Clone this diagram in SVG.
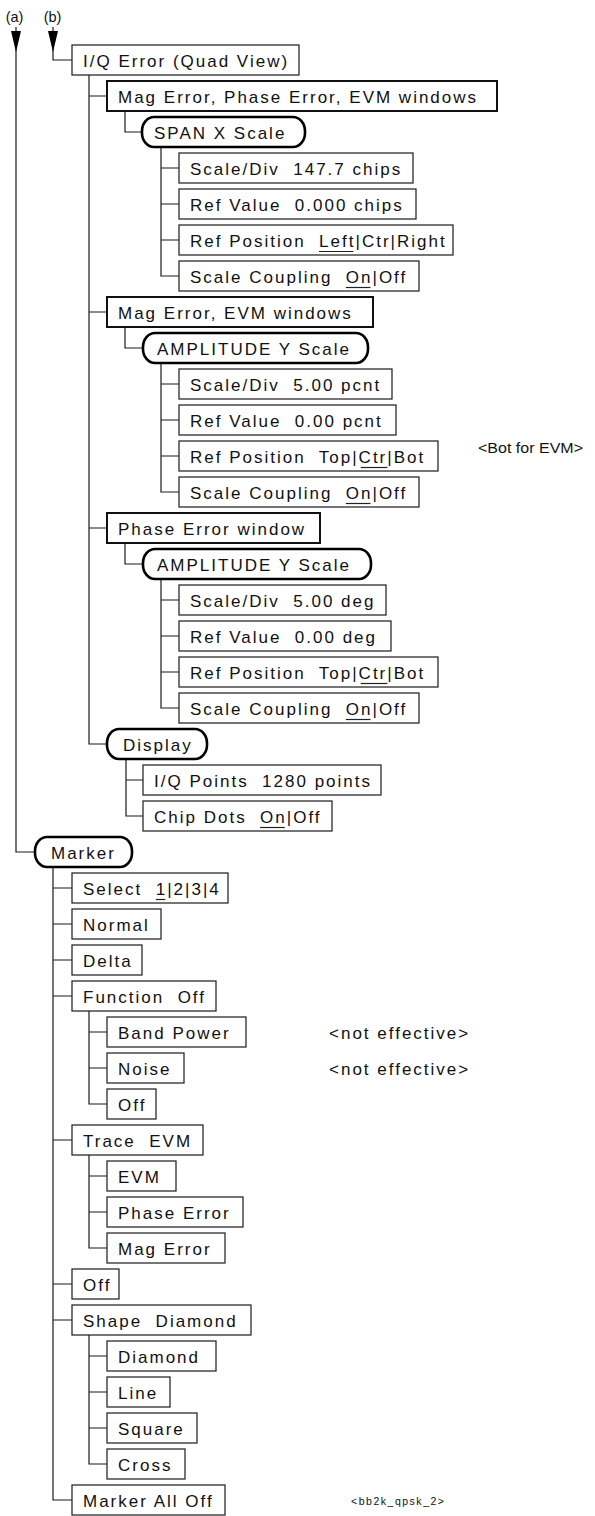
<svg xmlns="http://www.w3.org/2000/svg" width="595" height="1516" viewBox="0 0 595 1516" xml:space="preserve">
<style>
text{font-family:"Liberation Sans",Arial,Helvetica,sans-serif;fill:#111;white-space:pre}
.t{font-size:17px;letter-spacing:2px}
.box{fill:#fff;stroke:#1a1a1a;stroke-width:1.2}
.thick{fill:#fff;stroke:#111;stroke-width:2}
.pill{fill:#fff;stroke:#000;stroke-width:2.6}
.conn{fill:none;stroke:#1a1a1a;stroke-width:1.2}
.ul{stroke:#222;stroke-width:1.2}
.lbl{font-size:14.5px}
.note{font-size:15px}
.tag{font-size:10.5px}
</style>
<defs>
<path id="arrowhead" d="M-5,0 L5,0 L0,21 Z" fill="#000"/>
</defs>
<rect x="0" y="0" width="595" height="1516" fill="#fff"/>

<g id="connectors">
<path class="conn" d="M16,27 V852 H35"/>
<path class="conn" d="M53,27 V60 H72"/>
<path class="conn" d="M89,75 V744 H107 M89,96 H107 M89,312 H107 M89,528 H107"/>
<path class="conn" d="M125,111 V132 H142"/>
<path class="conn" d="M161,147 V276 H179 M161,168 H179 M161,204 H179 M161,240 H179"/>
<path class="conn" d="M125,327 V348 H143"/>
<path class="conn" d="M161,363 V492 H179 M161,384 H179 M161,420 H179 M161,456 H179"/>
<path class="conn" d="M125,543 V564 H143"/>
<path class="conn" d="M161,579 V708 H179 M161,600 H179 M161,636 H179 M161,672 H179"/>
<path class="conn" d="M126,759 V816 H143 M126,780 H143"/>
<path class="conn" d="M53,867 V1500 H72 M53,888 H72 M53,924 H72 M53,960 H72 M53,996 H72 M53,1140 H72 M53,1284 H72 M53,1320 H72"/>
<path class="conn" d="M89,1011 V1104 H107 M89,1032 H107 M89,1068 H107"/>
<path class="conn" d="M89,1155 V1248 H107 M89,1176 H107 M89,1212 H107"/>
<path class="conn" d="M89,1335 V1464 H107 M89,1356 H107 M89,1392 H107 M89,1428 H107"/>
<use href="#arrowhead" x="16" y="31"/>
<use href="#arrowhead" x="53" y="31"/>
</g>

<g id="label-a"><text class="lbl" x="14.5" y="22" text-anchor="middle">(a)</text></g>
<g id="label-b"><text class="lbl" x="52.5" y="22" text-anchor="middle">(b)</text></g>

<g id="n0"><rect class="box" x="72" y="45" width="227" height="30"/><text class="t" x="83" y="66.5">I/Q Error (Quad View)</text></g>
<g id="n1"><rect class="thick" x="107" y="81" width="390" height="30"/><text class="t" x="118" y="102.5">Mag Error, Phase Error, EVM windows</text></g>
<g id="n2"><rect class="pill" x="142" y="117" width="163" height="30" rx="12" ry="14"/><text class="t" x="154" y="138.5">SPAN X Scale</text></g>
<g id="n3"><rect class="box" x="179" y="153" width="234" height="30"/><text class="t" x="190" y="174.5">Scale/Div  147.7 chips</text></g>
<g id="n4"><rect class="box" x="179" y="189" width="237" height="30"/><text class="t" x="190" y="210.5">Ref Value  0.000 chips</text></g>
<g id="n5"><rect class="box" x="179" y="225" width="274" height="30"/><text class="t" x="190" y="246.5">Ref Position  Left|Ctr|Right</text><line class="ul" x1="319" y1="251.5" x2="353.5" y2="251.5"/></g>
<g id="n6"><rect class="box" x="179" y="261" width="240" height="30"/><text class="t" x="190" y="282.5">Scale Coupling  On|Off</text><line class="ul" x1="345.8" y1="287.5" x2="370.5" y2="287.5"/></g>

<g id="n7"><rect class="thick" x="107" y="297" width="266" height="30"/><text class="t" x="118" y="318.5">Mag Error, EVM windows</text></g>
<g id="n8"><rect class="pill" x="143" y="333" width="225" height="30" rx="12" ry="14"/><text class="t" x="157" y="354.5">AMPLITUDE Y Scale</text></g>
<g id="n9"><rect class="box" x="179" y="369" width="213" height="30"/><text class="t" x="190" y="390.5">Scale/Div  5.00 pcnt</text></g>
<g id="n10"><rect class="box" x="179" y="405" width="217" height="30"/><text class="t" x="190" y="426.5">Ref Value  0.00 pcnt</text></g>
<g id="n11"><rect class="box" x="179" y="441" width="259" height="30"/><text class="t" x="190" y="462.5">Ref Position  Top|Ctr|Bot</text><line class="ul" x1="360.8" y1="467.5" x2="387.5" y2="467.5"/><text class="note" x="478" y="453" textLength="105" lengthAdjust="spacingAndGlyphs">&lt;Bot for EVM&gt;</text></g>
<g id="n12"><rect class="box" x="179" y="477" width="240" height="30"/><text class="t" x="190" y="498.5">Scale Coupling  On|Off</text><line class="ul" x1="345.8" y1="503.5" x2="370.5" y2="503.5"/></g>

<g id="n13"><rect class="thick" x="107" y="513" width="213" height="30"/><text class="t" x="118" y="534.5">Phase Error window</text></g>
<g id="n14"><rect class="pill" x="143" y="549" width="228" height="30" rx="12" ry="14"/><text class="t" x="157" y="570.5">AMPLITUDE Y Scale</text></g>
<g id="n15"><rect class="box" x="179" y="585" width="207" height="30"/><text class="t" x="190" y="606.5">Scale/Div  5.00 deg</text></g>
<g id="n16"><rect class="box" x="179" y="621" width="212" height="30"/><text class="t" x="190" y="642.5">Ref Value  0.00 deg</text></g>
<g id="n17"><rect class="box" x="179" y="657" width="259" height="30"/><text class="t" x="190" y="678.5">Ref Position  Top|Ctr|Bot</text><line class="ul" x1="360.8" y1="683.5" x2="387.5" y2="683.5"/></g>
<g id="n18"><rect class="box" x="179" y="693" width="240" height="30"/><text class="t" x="190" y="714.5">Scale Coupling  On|Off</text><line class="ul" x1="345.8" y1="719.5" x2="370.5" y2="719.5"/></g>

<g id="n19"><rect class="pill" x="107" y="729" width="100" height="30" rx="12" ry="14"/><text class="t" x="123" y="750.5">Display</text></g>
<g id="n20"><rect class="box" x="143" y="765" width="238" height="30"/><text class="t" x="154" y="786.5">I/Q Points  1280 points</text></g>
<g id="n21"><rect class="box" x="143" y="801" width="189" height="30"/><text class="t" x="154" y="822.5">Chip Dots  On|Off</text><line class="ul" x1="260.1" y1="827.5" x2="284.8" y2="827.5"/></g>

<g id="n22"><rect class="pill" x="35" y="837" width="97" height="30" rx="12" ry="14"/><text class="t" x="51" y="858.5">Marker</text></g>
<g id="n23"><rect class="box" x="72" y="873" width="156" height="30"/><text class="t" x="83" y="894.5">Select  1|2|3|4</text><line class="ul" x1="155.7" y1="899.5" x2="165.2" y2="899.5"/></g>
<g id="n24"><rect class="box" x="72" y="909" width="89" height="30"/><text class="t" x="83" y="930.5">Normal</text></g>
<g id="n25"><rect class="box" x="72" y="945" width="70" height="30"/><text class="t" x="83" y="966.5">Delta</text></g>
<g id="n26"><rect class="box" x="72" y="981" width="144" height="30"/><text class="t" x="83" y="1002.5">Function  Off</text></g>
<g id="n27"><rect class="box" x="107" y="1017" width="139" height="30"/><text class="t" x="118" y="1038.5">Band Power</text><text class="t" x="329" y="1038.5">&lt;not effective&gt;</text></g>
<g id="n28"><rect class="box" x="107" y="1053" width="77" height="30"/><text class="t" x="118" y="1074.5">Noise</text><text class="t" x="329" y="1074.5">&lt;not effective&gt;</text></g>
<g id="n29"><rect class="box" x="107" y="1089" width="49" height="30"/><text class="t" x="118" y="1110.5">Off</text></g>
<g id="n30"><rect class="box" x="72" y="1125" width="131" height="30"/><text class="t" x="83" y="1146.5">Trace  EVM</text></g>
<g id="n31"><rect class="box" x="107" y="1161" width="69" height="30"/><text class="t" x="118" y="1182.5">EVM</text></g>
<g id="n32"><rect class="box" x="107" y="1197" width="136" height="30"/><text class="t" x="118" y="1218.5">Phase Error</text></g>
<g id="n33"><rect class="box" x="107" y="1233" width="118" height="30"/><text class="t" x="118" y="1254.5">Mag Error</text></g>
<g id="n34"><rect class="box" x="72" y="1269" width="47" height="30"/><text class="t" x="83" y="1290.5">Off</text></g>
<g id="n35"><rect class="box" x="72" y="1305" width="179" height="30"/><text class="t" x="83" y="1326.5">Shape  Diamond</text></g>
<g id="n36"><rect class="box" x="107" y="1341" width="109" height="30"/><text class="t" x="118" y="1362.5">Diamond</text></g>
<g id="n37"><rect class="box" x="107" y="1377" width="63" height="30"/><text class="t" x="118" y="1398.5">Line</text></g>
<g id="n38"><rect class="box" x="107" y="1413" width="90" height="30"/><text class="t" x="118" y="1434.5">Square</text></g>
<g id="n39"><rect class="box" x="107" y="1449" width="78" height="30"/><text class="t" x="118" y="1470.5">Cross</text></g>
<g id="n40"><rect class="box" x="72" y="1485" width="153" height="30"/><text class="t" x="83" y="1506.5">Marker All Off</text></g>

<g id="tag"><text class="tag" x="351" y="1505" textLength="93" lengthAdjust="spacing">&lt;bb2k_qpsk_2&gt;</text></g>
</svg>
